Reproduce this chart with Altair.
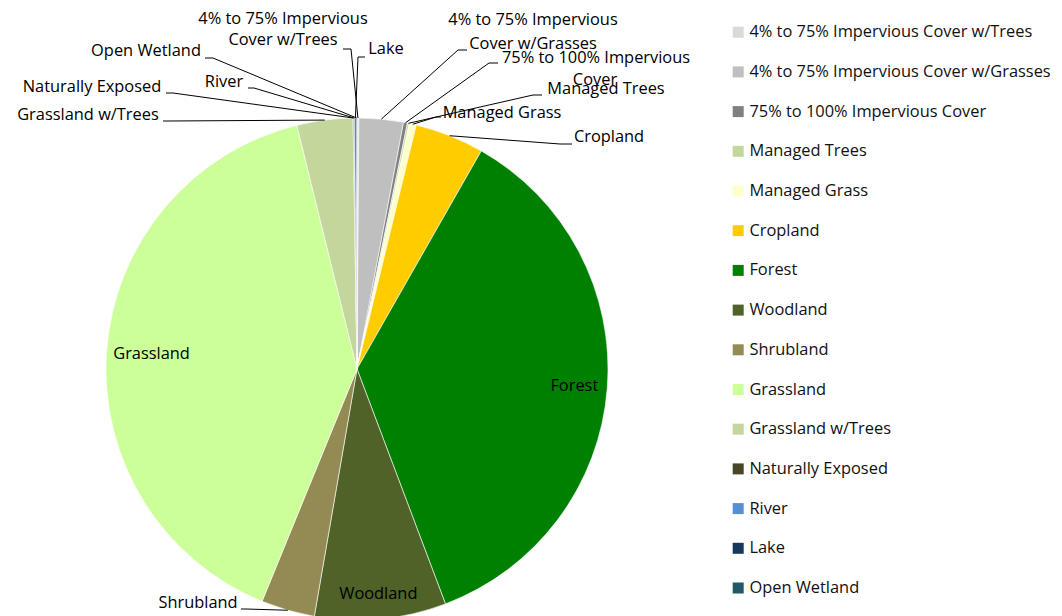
import math
import altair as alt
import pandas as pd

# ---------------- data ----------------
categories = [
    "4% to 75% Impervious Cover w/Trees",
    "4% to 75% Impervious Cover w/Grasses",
    "75% to 100% Impervious Cover",
    "Managed Trees",
    "Managed Grass",
    "Cropland",
    "Forest",
    "Woodland",
    "Shrubland",
    "Grassland",
    "Grassland w/Trees",
    "Naturally Exposed",
    "River",
    "Lake",
    "Open Wetland",
]
values = [0.12, 2.85, 0.25, 0.12, 0.45, 4.45, 36.0, 8.45, 3.45, 39.95, 3.6, 0.05, 0.05, 0.10, 0.05]
colors = [
    "#D9D9D9", "#BFBFBF", "#808080", "#C4D79B", "#FFFFCC", "#FFCC00", "#008000",
    "#4F6228", "#948A54", "#CCFF99", "#C3D69B", "#494529", "#558ED5", "#17375E", "#215968",
]
inside_labels = ["", "", "", "", "", "", "Forest", "Woodland", "", "Grassland", "", "", "", "", ""]

# outside label text lines
out_cat = [
    "4% to 75% Impervious Cover w/Trees", "4% to 75% Impervious Cover w/Trees", "Lake",
    "4% to 75% Impervious Cover w/Grasses", "4% to 75% Impervious Cover w/Grasses",
    "75% to 100% Impervious Cover", "75% to 100% Impervious Cover",
    "Managed Trees", "Managed Grass", "Cropland", "Shrubland",
    "Grassland w/Trees", "Naturally Exposed", "River", "Open Wetland",
]
out_text = [
    "4% to 75% Impervious", "Cover w/Trees", "Lake",
    "4% to 75% Impervious", "Cover w/Grasses",
    "75% to 100% Impervious", "Cover",
    "Managed Trees", "Managed Grass", "Cropland", "Shrubland",
    "Grassland w/Trees", "Naturally Exposed", "River", "Open Wetland",
]

# ---------------- layout (annotation placement, page px) ----------------
M = 8
W, H = 1046, 608
CX, CY, R = 357 - M, 369 - M, 251
FONT = "Open Sans"
FS = 16.4

inside_r = [0, 0, 0, 0, 0, 0, 218, 226, 0, 206, 0, 0, 0, 0, 0]

lab_x = [283, 283, 386, 533, 533, 596, 595, 606, 502, 609, 198, 88, 92, 224, 146]
lab_y = [19, 40, 49, 20, 44, 58, 80, 89, 113, 137, 603, 115, 87, 82, 51]

leader_cat = ["4% to 75% Impervious Cover w/Trees", "4% to 75% Impervious Cover w/Grasses",
              "75% to 100% Impervious Cover", "Managed Trees", "Managed Grass", "Cropland",
              "Shrubland", "Grassland w/Trees", "Naturally Exposed", "River", "Open Wetland", "Lake"]
leader_start = [(343, 49), (467, 50), (498, 63), (542, 95), (441, 117), (572, 144),
                (241, 609), (163, 121), (166, 93), (248, 88), (205, 58), (365, 57)]
leader_elbow = [(351, 49), (458, 50), (489, 63), (533, 95), (436, 117), (560, 144),
                (246, 609), (168, 121), (173, 93), (254, 88), (213, 58), (358, 57)]

# ---------------- tables ----------------
df = pd.DataFrame({
    "category": categories,
    "value": values,
    "order": list(range(len(categories))),
})

total = sum(values)
mid_pt = {}
in_rows = []
cum = 0.0
for c, v, lab, r in zip(categories, values, inside_labels, inside_r):
    a = (cum + v / 2) / total * 2 * math.pi
    mid_pt[c] = (CX + R * math.sin(a), CY - R * math.cos(a))
    if lab:
        in_rows.append({"text": lab, "x": CX + r * math.sin(a), "y": CY - r * math.cos(a)})
    cum += v
in_df = pd.DataFrame(in_rows)

rows = []
for c, s, e in zip(leader_cat, leader_start, leader_elbow):
    rows.append({"cat": c, "pt": 0, "x": s[0] - M, "y": s[1] - M})
    rows.append({"cat": c, "pt": 1, "x": e[0] - M, "y": e[1] - M})
    rows.append({"cat": c, "pt": 2, "x": mid_pt[c][0], "y": mid_pt[c][1]})
lead_df = pd.DataFrame(rows)

lab_df = pd.DataFrame({
    "cat": out_cat,
    "text": out_text,
    "x": [v - M for v in lab_x],
    "y": [v - M for v in lab_y],
})

xs = alt.Scale(domain=[0, W])
ys = alt.Scale(domain=[0, H], reverse=True)

arc = alt.Chart(df).mark_arc(radius=R, stroke="white", strokeWidth=0.6).encode(
    theta=alt.Theta("value:Q", stack=True),
    order=alt.Order("order:Q"),
    color=alt.Color(
        "category:N",
        scale=alt.Scale(domain=categories, range=colors),
        legend=alt.Legend(
            title=None, orient="none", legendX=722, legendY=16,
            symbolType="square", symbolSize=121, symbolStrokeWidth=0,
            labelFont=FONT, labelFontSize=FS, labelColor="#111111", labelLimit=500,
            labelOffset=3, rowPadding=22.7, padding=0,
        ),
    ),
    x=alt.value(CX),
    y=alt.value(CY),
)

inside = alt.Chart(in_df).mark_text(font=FONT, fontSize=FS, color="#000000",
                                    align="center", baseline="middle").encode(
    x=alt.X("x:Q", scale=xs, axis=None),
    y=alt.Y("y:Q", scale=ys, axis=None),
    text="text:N",
)

leaders = alt.Chart(lead_df).mark_line(color="#000000", strokeWidth=1).encode(
    x=alt.X("x:Q", scale=xs, axis=None),
    y=alt.Y("y:Q", scale=ys, axis=None),
    detail="cat:N",
    order="pt:Q",
)

labels = alt.Chart(lab_df).mark_text(font=FONT, fontSize=FS, color="#000000",
                                     align="center", baseline="middle").encode(
    x=alt.X("x:Q", scale=xs, axis=None),
    y=alt.Y("y:Q", scale=ys, axis=None),
    text="text:N",
)

chart = alt.layer(arc, inside, leaders, labels).properties(
    width=W, height=H,
    autosize=alt.AutoSizeParams(type="none"),
    padding=0,
).configure_view(stroke=None)

chart.save("out.html", embed_options={"renderer": "svg", "actions": False})
